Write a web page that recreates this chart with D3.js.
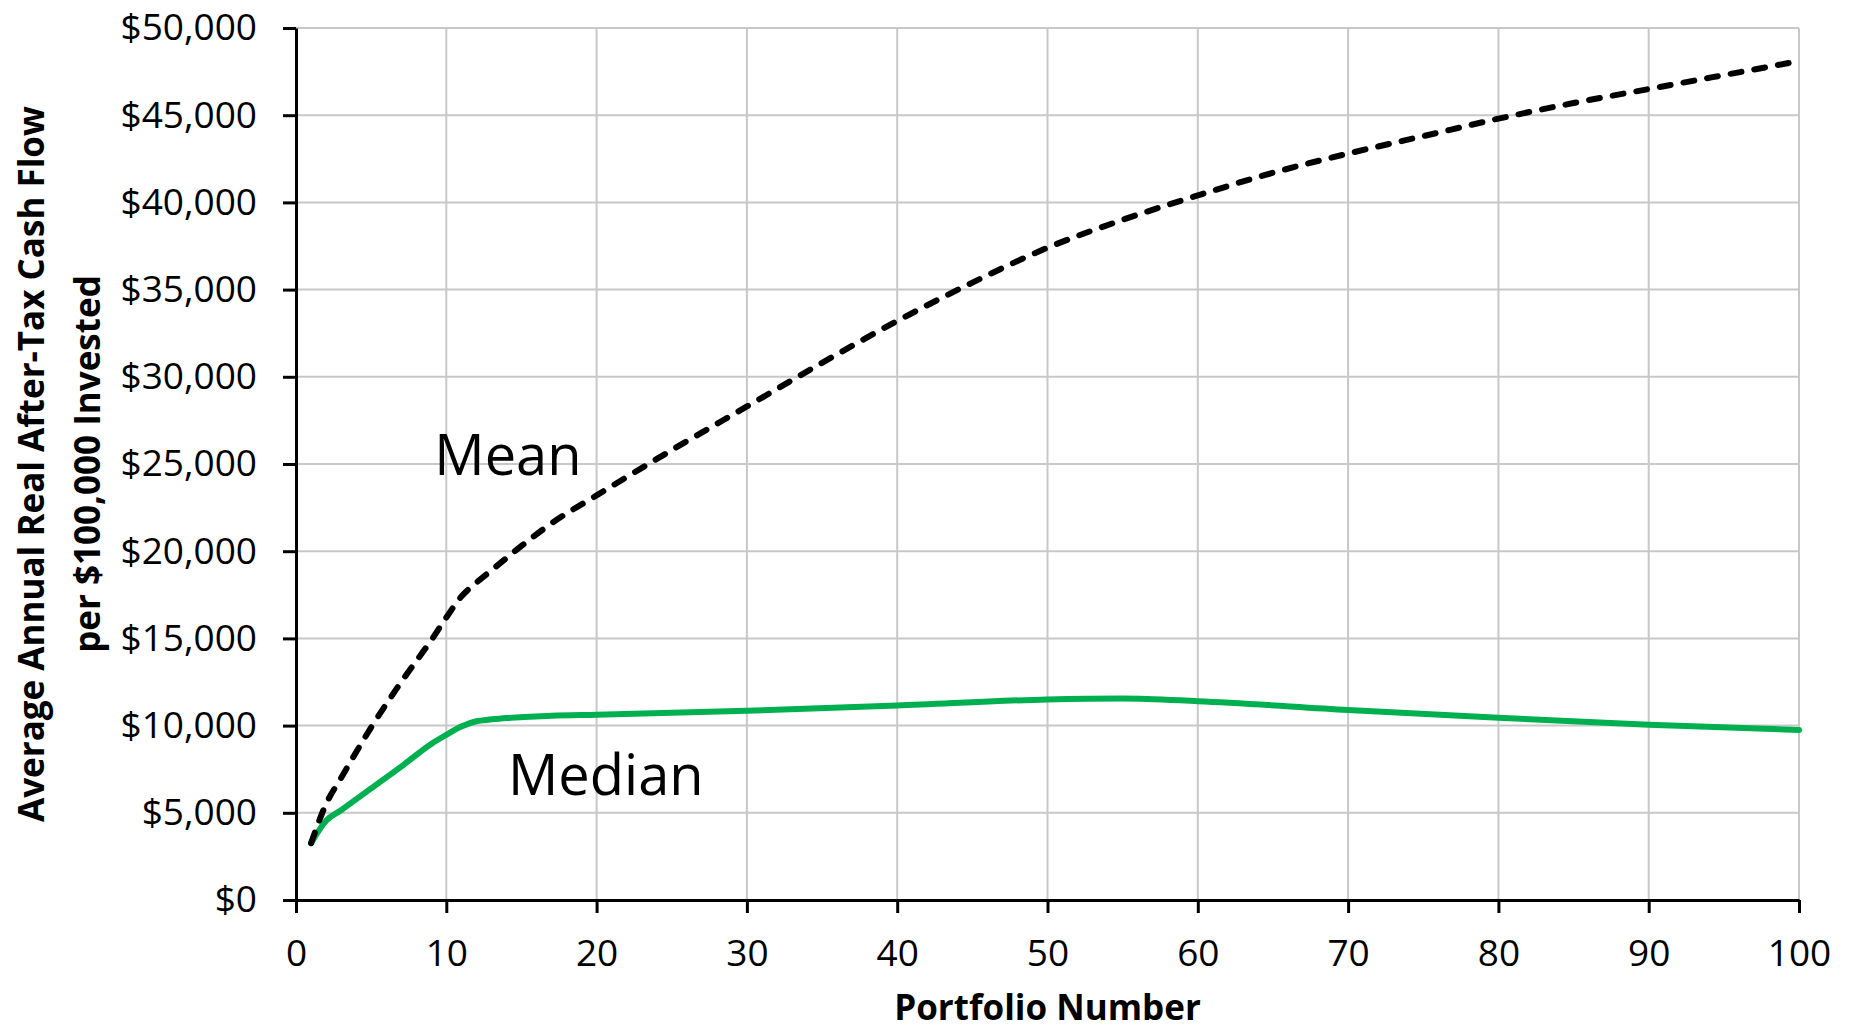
<!DOCTYPE html>
<html>
<head>
<meta charset="utf-8">
<script src="https://cdn.jsdelivr.net/npm/d3@7"></script>
<style>
  body { margin: 0; background: #fff; }
  svg text { font-family: "Open Sans", sans-serif; fill: #000; }
</style>
</head>
<body>
<div id="chart"></div>
<script>
const width = 1850, height = 1032;
const margin = {top: 28, right: 51, bottom: 132, left: 296};

// portfolio numbers
const meanPortfolio = [1, 2, 3, 5, 7, 9, 10, 11, 12, 13, 15, 17, 20, 25, 30, 35, 40, 45, 50, 55, 60, 65, 70, 75, 80, 85, 90, 95, 100];
const meanValues = [3260, 5500, 7000, 9900, 12500, 14900, 16200, 17400, 18200, 18900, 20300, 21600, 23200, 25800, 28300, 30800, 33200, 35400, 37400, 39000, 40400, 41700, 42800, 43800, 44800, 45700, 46500, 47300, 48100];

const medianPortfolio = [1, 2, 3, 5, 7, 9, 10, 11, 12, 14, 17, 20, 30, 40, 50, 55, 60, 70, 80, 90, 100];
const medianValues = [3260, 4550, 5150, 6400, 7650, 8950, 9470, 9950, 10250, 10430, 10560, 10620, 10850, 11150, 11500, 11550, 11400, 10900, 10450, 10050, 9750];

const xTicks = [0, 10, 20, 30, 40, 50, 60, 70, 80, 90, 100];
const yTicks = [0, 5000, 10000, 15000, 20000, 25000, 30000, 35000, 40000, 45000, 50000];

const seriesLabels = [
  {name: 'Mean', n: 9.2, v: 25500},
  {name: 'Median', n: 14.1, v: 7150}
];

const x = d3.scaleLinear().domain([0, 100]).range([margin.left, width - margin.right]);
const y = d3.scaleLinear().domain([0, 50000]).range([height - margin.bottom, margin.top]);

const svg = d3.select('#chart').append('svg')
  .attr('width', width)
  .attr('height', height);

// gridlines
svg.append('g')
  .selectAll('line')
  .data(xTicks.slice(1))
  .join('line')
  .attr('x1', d => x(d)).attr('x2', d => x(d))
  .attr('y1', y(0)).attr('y2', y(50000))
  .attr('stroke', '#c8c8c8')
  .attr('stroke-width', 2);

svg.append('g')
  .selectAll('line')
  .data(yTicks.slice(1))
  .join('line')
  .attr('x1', x(0)).attr('x2', x(100))
  .attr('y1', d => y(d)).attr('y2', d => y(d))
  .attr('stroke', '#c8c8c8')
  .attr('stroke-width', 2);

// axes
const fmt = d => '$' + d3.format(',')(d);

const yAxis = svg.append('g')
  .attr('transform', `translate(${x(0)},0)`)
  .call(d3.axisLeft(y).tickValues(yTicks).tickFormat(fmt).tickSize(13).tickPadding(26).tickSizeOuter(0));

const xAxis = svg.append('g')
  .attr('transform', `translate(0,${y(0)})`)
  .call(d3.axisBottom(x).tickValues(xTicks).tickSize(13).tickPadding(27).tickSizeOuter(0));

[yAxis, xAxis].forEach(a => {
  a.select('.domain').attr('stroke', '#000').attr('stroke-width', 3);
  a.selectAll('.tick line').attr('stroke', '#000').attr('stroke-width', 3);
  a.selectAll('.tick text')
    .style('font-family', '"Open Sans", sans-serif')
    .style('font-size', '37px')
    .attr('fill', '#000');
});

// lines
const line = d3.line()
  .x(d => x(d[0]))
  .y(d => y(d[1]))
  .curve(d3.curveMonotoneX);

svg.append('path')
  .datum(d3.zip(medianPortfolio, medianValues))
  .attr('d', line)
  .attr('fill', 'none')
  .attr('stroke', '#00b050')
  .attr('stroke-width', 6)
  .attr('stroke-linecap', 'round')
  .attr('stroke-linejoin', 'round');

svg.append('path')
  .datum(d3.zip(meanPortfolio, meanValues))
  .attr('d', line)
  .attr('fill', 'none')
  .attr('stroke', '#000')
  .attr('stroke-width', 6)
  .attr('stroke-dasharray', '11,13')
  .attr('stroke-linecap', 'round');

// series labels
svg.append('g')
  .selectAll('text')
  .data(seriesLabels)
  .join('text')
  .attr('x', d => x(d.n))
  .attr('y', d => y(d.v))
  .attr('text-anchor', 'start')
  .attr('dy', '0.35em')
  .style('font-size', '56px')
  .text(d => d.name);

// axis titles
svg.append('text')
  .attr('x', x(50))
  .attr('y', 1008)
  .attr('dy', '0.35em')
  .attr('text-anchor', 'middle')
  .style('font-size', '35px')
  .style('font-weight', 'bold')
  .text('Portfolio Number');

const yTitle = svg.append('text')
  .attr('transform', `translate(0,${(y(0) + y(50000)) / 2}) rotate(-90)`)
  .attr('text-anchor', 'middle')
  .style('font-size', '35px')
  .style('font-weight', 'bold');

yTitle.append('tspan').attr('x', 0).attr('y', 32).attr('dy', '0.35em')
  .text('Average Annual Real After-Tax Cash Flow');
yTitle.append('tspan').attr('x', 0).attr('y', 88).attr('dy', '0.35em')
  .text('per $100,000 Invested');
</script>
</body>
</html>
